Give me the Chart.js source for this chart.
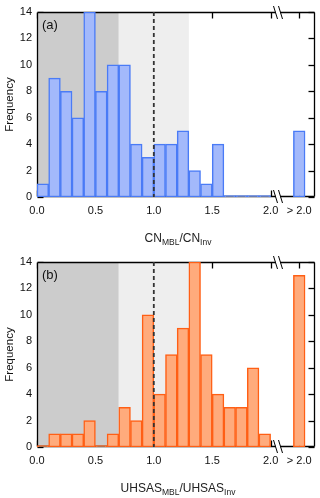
<!DOCTYPE html>
<html><head><meta charset="utf-8">
<script src="https://cdn.jsdelivr.net/npm/chart.js@4"></script>
<style>
html,body{margin:0;padding:0;background:#fff;}
#wrap{width:320px;height:498px;}
canvas{display:block;}
</style></head>
<body><div id="wrap">
<div style="width:320px;height:250px;position:relative"><canvas id="ca"></canvas></div>
<div style="width:320px;height:248px;position:relative"><canvas id="cb"></canvas></div>
</div>
<script>
// Bin centers (ratio), last bin is the ">2.0" overflow bin
const binCenters = [0.05,0.15,0.25,0.35,0.45,0.55,0.65,0.75,0.85,0.95,1.05,1.15,1.25,1.35,1.45,1.55,1.65,1.75,1.85,1.95,2.245];
const countsCN    = [1,9,8,6,14,8,10,10,4,3,4,4,5,2,1,4,0,0,0,0,5];
const countsUHSAS = [0,1,1,1,2,0,1,3,2,10,4,7,9,14,7,4,3,3,6,1,13];
const xTickValues = [0,0.5,1.0,1.5,2.0,2.245];
const xTickLabels = ['0.0','0.5','1.0','1.5','2.0','> 2.0'];
const yTickValues = [0,2,4,6,8,10,12,14];
const darkBand = [0,0.7];
const lightBand = [0.7,1.3];
const refLine = 1.0;
const breakAt = 2.06;

const FONT = "'Liberation Sans', Arial, sans-serif";

function line(ctx,x1,y1,x2,y2){ctx.beginPath();ctx.moveTo(x1,y1);ctx.lineTo(x2,y2);ctx.stroke();}

function framePlugin(label, titleMain1, titleSub1, titleMain2, titleSub2){
  return {
    id:'frame',
    beforeDatasetsDraw(chart){
      const ctx=chart.ctx, a=chart.chartArea, x=chart.scales.x, y=chart.scales.y;
      const L=Math.round(a.left)+0.5, R=Math.round(a.right)-0.5, T=Math.round(a.top)+0.5, B=Math.round(a.bottom)-0.5;
      ctx.save();
      ctx.setLineDash([]);
      ctx.globalAlpha=1;
      // inward ticks
      ctx.strokeStyle='#000000'; ctx.lineWidth=1.3;
      const tl=6;
      xTickValues.forEach(v=>{
        const px=Math.round(x.getPixelForValue(v))+0.5;
        line(ctx,px,T,px,T+tl);
        line(ctx,px,B,px,B-tl);
      });
      yTickValues.forEach(v=>{
        const py=Math.round(y.getPixelForValue(v))+0.5;
        line(ctx,L,py,L+tl,py);
        line(ctx,R,py,R-tl,py);
      });
      // shading
      ctx.fillStyle='#cccccc';
      ctx.fillRect(x.getPixelForValue(darkBand[0]),a.top,x.getPixelForValue(darkBand[1])-x.getPixelForValue(darkBand[0]),a.bottom-a.top);
      ctx.fillStyle='#eeeeee';
      ctx.fillRect(x.getPixelForValue(lightBand[0]),a.top,x.getPixelForValue(lightBand[1])-x.getPixelForValue(lightBand[0]),a.bottom-a.top);
      // frame
      ctx.strokeStyle='#000000'; ctx.lineWidth=1.3;
      line(ctx,L,T,R,T); line(ctx,R,T,R,B); line(ctx,R,B,L,B); line(ctx,L,B,L,T);
      ctx.restore();
    },
    afterDatasetsDraw(chart){
      const ctx=chart.ctx, a=chart.chartArea, x=chart.scales.x;
      const T=Math.round(a.top)+0.5, B=Math.round(a.bottom)-0.5;
      ctx.save();
      // dashed reference line
      ctx.strokeStyle='#333'; ctx.lineWidth=1.8; ctx.setLineDash([4,3]);
      const rx=x.getPixelForValue(refLine);
      line(ctx,rx,a.top,rx,a.bottom);
      ctx.setLineDash([]);
      // axis breaks
      const bx=Math.round(x.getPixelForValue(breakAt));
      [T,B].forEach(by=>{
        ctx.fillStyle='#fff';
        ctx.fillRect(bx-2,by-2,4,4);
        ctx.strokeStyle='#000'; ctx.lineWidth=1;
        line(ctx,bx-4.5,by-6.5,bx-0.5,by+6.5);
        line(ctx,bx+0.5,by-6.5,bx+4.5,by+6.5);
      });
      // panel label
      ctx.fillStyle='#111'; ctx.font='13px '+FONT; ctx.textBaseline='alphabetic'; ctx.textAlign='left';
      ctx.fillText(label,a.left+5,a.top+17);
      // x title with subscripts
      const big='12px '+FONT, small='8.5px '+FONT;
      const parts=[[titleMain1,big,0],[titleSub1,small,3],[titleMain2,big,0],[titleSub2,small,3]];
      let w=0;
      parts.forEach(p=>{ctx.font=p[1]; w+=ctx.measureText(p[0]).width;});
      let cx=(a.left+a.right)/2 - w/2 + 2;
      const base=a.bottom+45;
      ctx.fillStyle='#222';
      parts.forEach(p=>{ctx.font=p[1]; ctx.fillText(p[0],cx,base+p[2]); cx+=ctx.measureText(p[0]).width;});
      ctx.restore();
    }
  };
}

function makeChart(id, counts, fill, border, label, t1, s1, t2, s2, xAxisHeight){
  const data = binCenters.map((c,i)=>({x:c,y:counts[i]}));
  return new Chart(document.getElementById(id),{
    type:'bar',
    data:{datasets:[{data, backgroundColor:fill, borderColor:border, borderWidth:1.5, borderSkipped:false,
      barPercentage:1, categoryPercentage:1, minBarLength:1.5}]},
    options:{
      responsive:true, maintainAspectRatio:false, animation:false,
      layout:{padding:{top:12,right:5,left:0,bottom:0}},
      plugins:{legend:{display:false},tooltip:{enabled:false}},
      scales:{
        x:{type:'linear', min:0, max:2.38, offset:false,
          grid:{display:false, drawTicks:false}, border:{display:false},
          afterBuildTicks(s){ s.ticks = xTickValues.map(v=>({value:v})); },
          afterFit(s){ s.height = xAxisHeight; },
          ticks:{autoSkip:false, maxRotation:0, padding:7, color:'#111', font:{family:FONT,size:11},
            callback:(v,i)=>xTickLabels[i]}
        },
        y:{min:0,max:14,
          grid:{display:false, drawTicks:false}, border:{display:false},
          afterBuildTicks(s){ s.ticks = yTickValues.map(v=>({value:v})); },
          afterFit(s){ s.width = 37; },
          ticks:{padding:5, color:'#111', font:{family:FONT,size:11}},
          title:{display:true, text:'Frequency', color:'#111', font:{family:FONT,size:11.5}, padding:{top:3,bottom:0}}
        }
      }
    },
    plugins:[framePlugin(label,t1,s1,t2,s2)]
  });
}

makeChart('ca', countsCN, '#a3b9fb', '#4a7bf6', '(a)', 'CN','MBL','/CN','Inv', 53);
makeChart('cb', countsUHSAS, '#ffab7c', '#ff5f15', '(b)', 'UHSAS','MBL','/UHSAS','Inv', 51);
</script>
</body></html>
